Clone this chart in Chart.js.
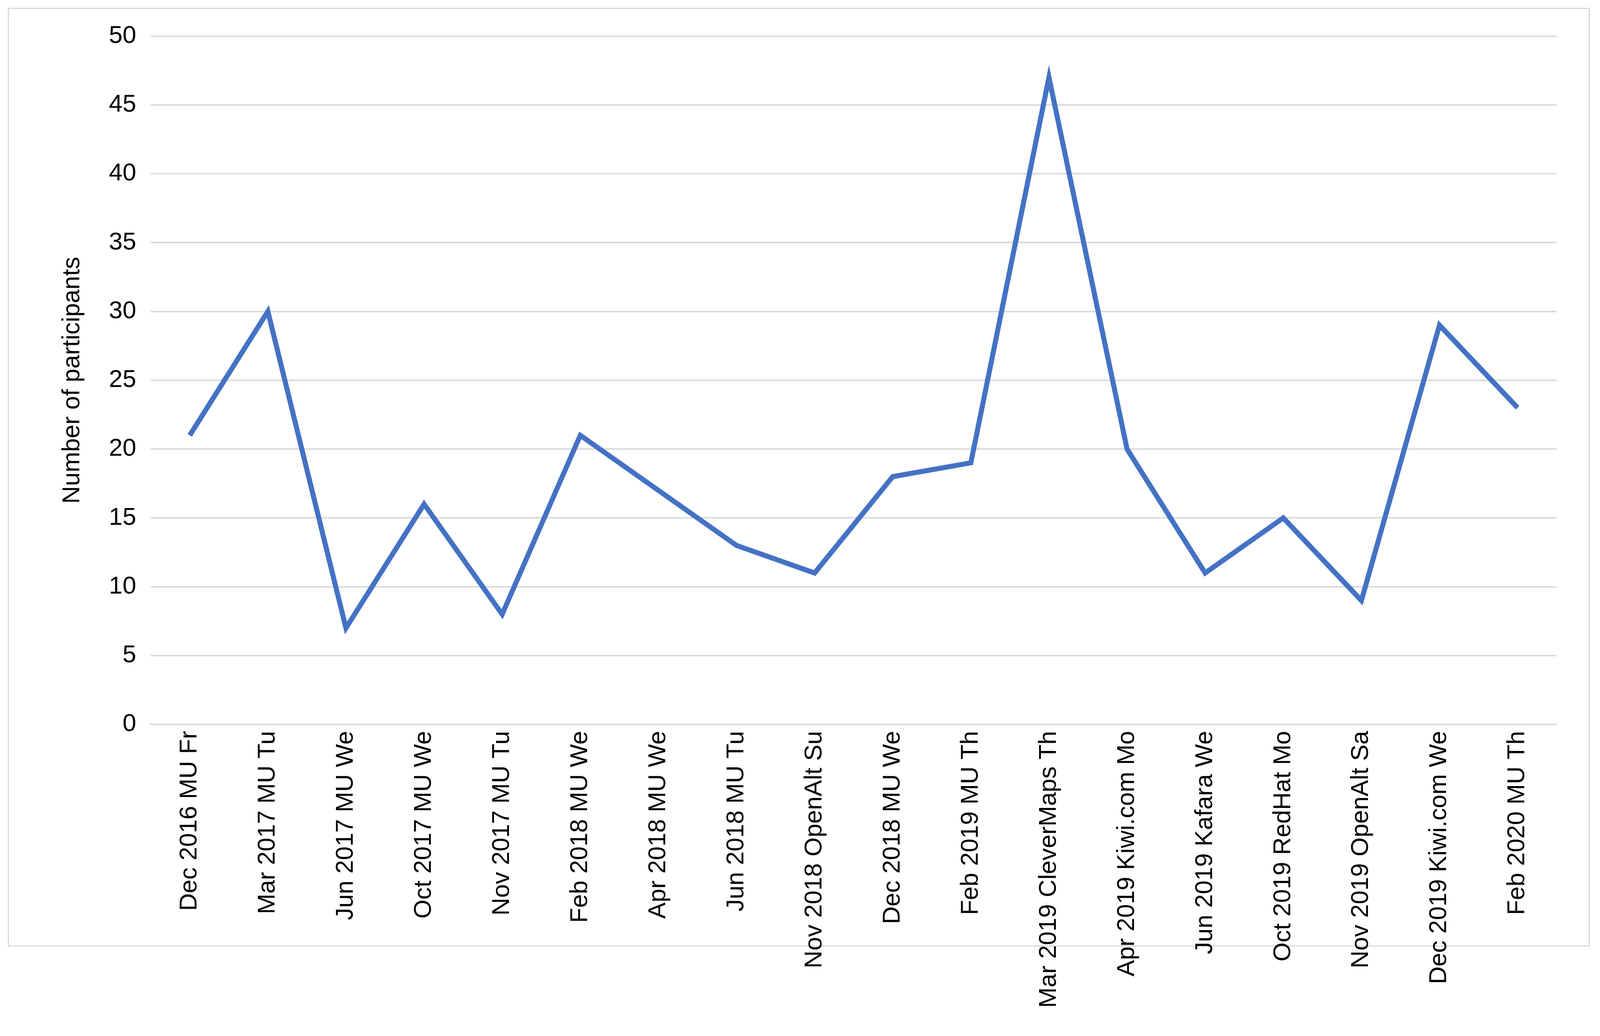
<!DOCTYPE html>
<html>
<head>
<meta charset="utf-8">
<script src="https://cdn.jsdelivr.net/npm/chart.js@4"></script>
<style>
  html, body { margin: 0; padding: 0; background: #fff; overflow: hidden; }
  #frame { position: absolute; border: 1px solid #d9d9d9; box-sizing: border-box; }
  canvas { position: absolute; left: 0; top: 0; }
</style>
</head>
<body>
<div id="frame"></div>
<canvas id="lineChart"></canvas>
<script>
const categories = [
    "Dec 2016 MU Fr", "Mar 2017 MU Tu", "Jun 2017 MU We", "Oct 2017 MU We",
    "Nov 2017 MU Tu", "Feb 2018 MU We", "Apr 2018 MU We", "Jun 2018 MU Tu",
    "Nov 2018 OpenAlt Su", "Dec 2018 MU We", "Feb 2019 MU Th", "Mar 2019 CleverMaps Th",
    "Apr 2019 Kiwi.com Mo", "Jun 2019 Kafara We", "Oct 2019 RedHat Mo", "Nov 2019 OpenAlt Sa",
    "Dec 2019 Kiwi.com We", "Feb 2020 MU Th"
];
const participants = [21, 30, 7, 16, 8, 21, 17, 13, 11, 18, 19, 47, 20, 11, 15, 9, 29, 23];

const W = window.innerWidth, H = window.innerHeight;
const s = W / 4430;
const frame = document.getElementById("frame");
frame.style.left = (22 * s) + "px";
frame.style.top = (22 * s) + "px";
frame.style.width = (4380 * s) + "px";
frame.style.height = (2600 * s) + "px";
frame.style.borderWidth = Math.max(1, 4 * s) + "px";

const canvas = document.getElementById("lineChart");
canvas.style.width = W + "px";
canvas.style.height = H + "px";
const font = { family: "Liberation Sans, Arial", size: 68 * s };

new Chart(canvas.getContext("2d"), {
    type: "line",
    data: {
        labels: categories,
        datasets: [{
            data: participants,
            borderColor: "#4472c4",
            borderWidth: 14 * s,
            pointRadius: 0,
            tension: 0,
            fill: false
        }]
    },
    options: {
        responsive: false,
        animation: false,
        layout: { padding: { left: 140 * s, right: 120 * s, top: 100 * s, bottom: 60 * s } },
        plugins: { legend: { display: false }, tooltip: { enabled: false } },
        scales: {
            x: {
                offset: true,
                grid: { display: false, drawTicks: false },
                border: { color: "#d9d9d9", width: 4 * s },
                ticks: {
                    color: "#000", font: font,
                    minRotation: 90, maxRotation: 90, padding: 18 * s, autoSkip: false
                }
            },
            y: {
                min: 0, max: 50,
                grid: { color: "#d9d9d9", lineWidth: 4 * s, drawTicks: false },
                border: { display: false },
                ticks: { stepSize: 5, color: "#000", padding: 40 * s, font: font },
                title: {
                    display: true, text: "Number of participants", color: "#000",
                    font: font, padding: 20 * s
                }
            }
        }
    }
});
</script>
</body>
</html>
